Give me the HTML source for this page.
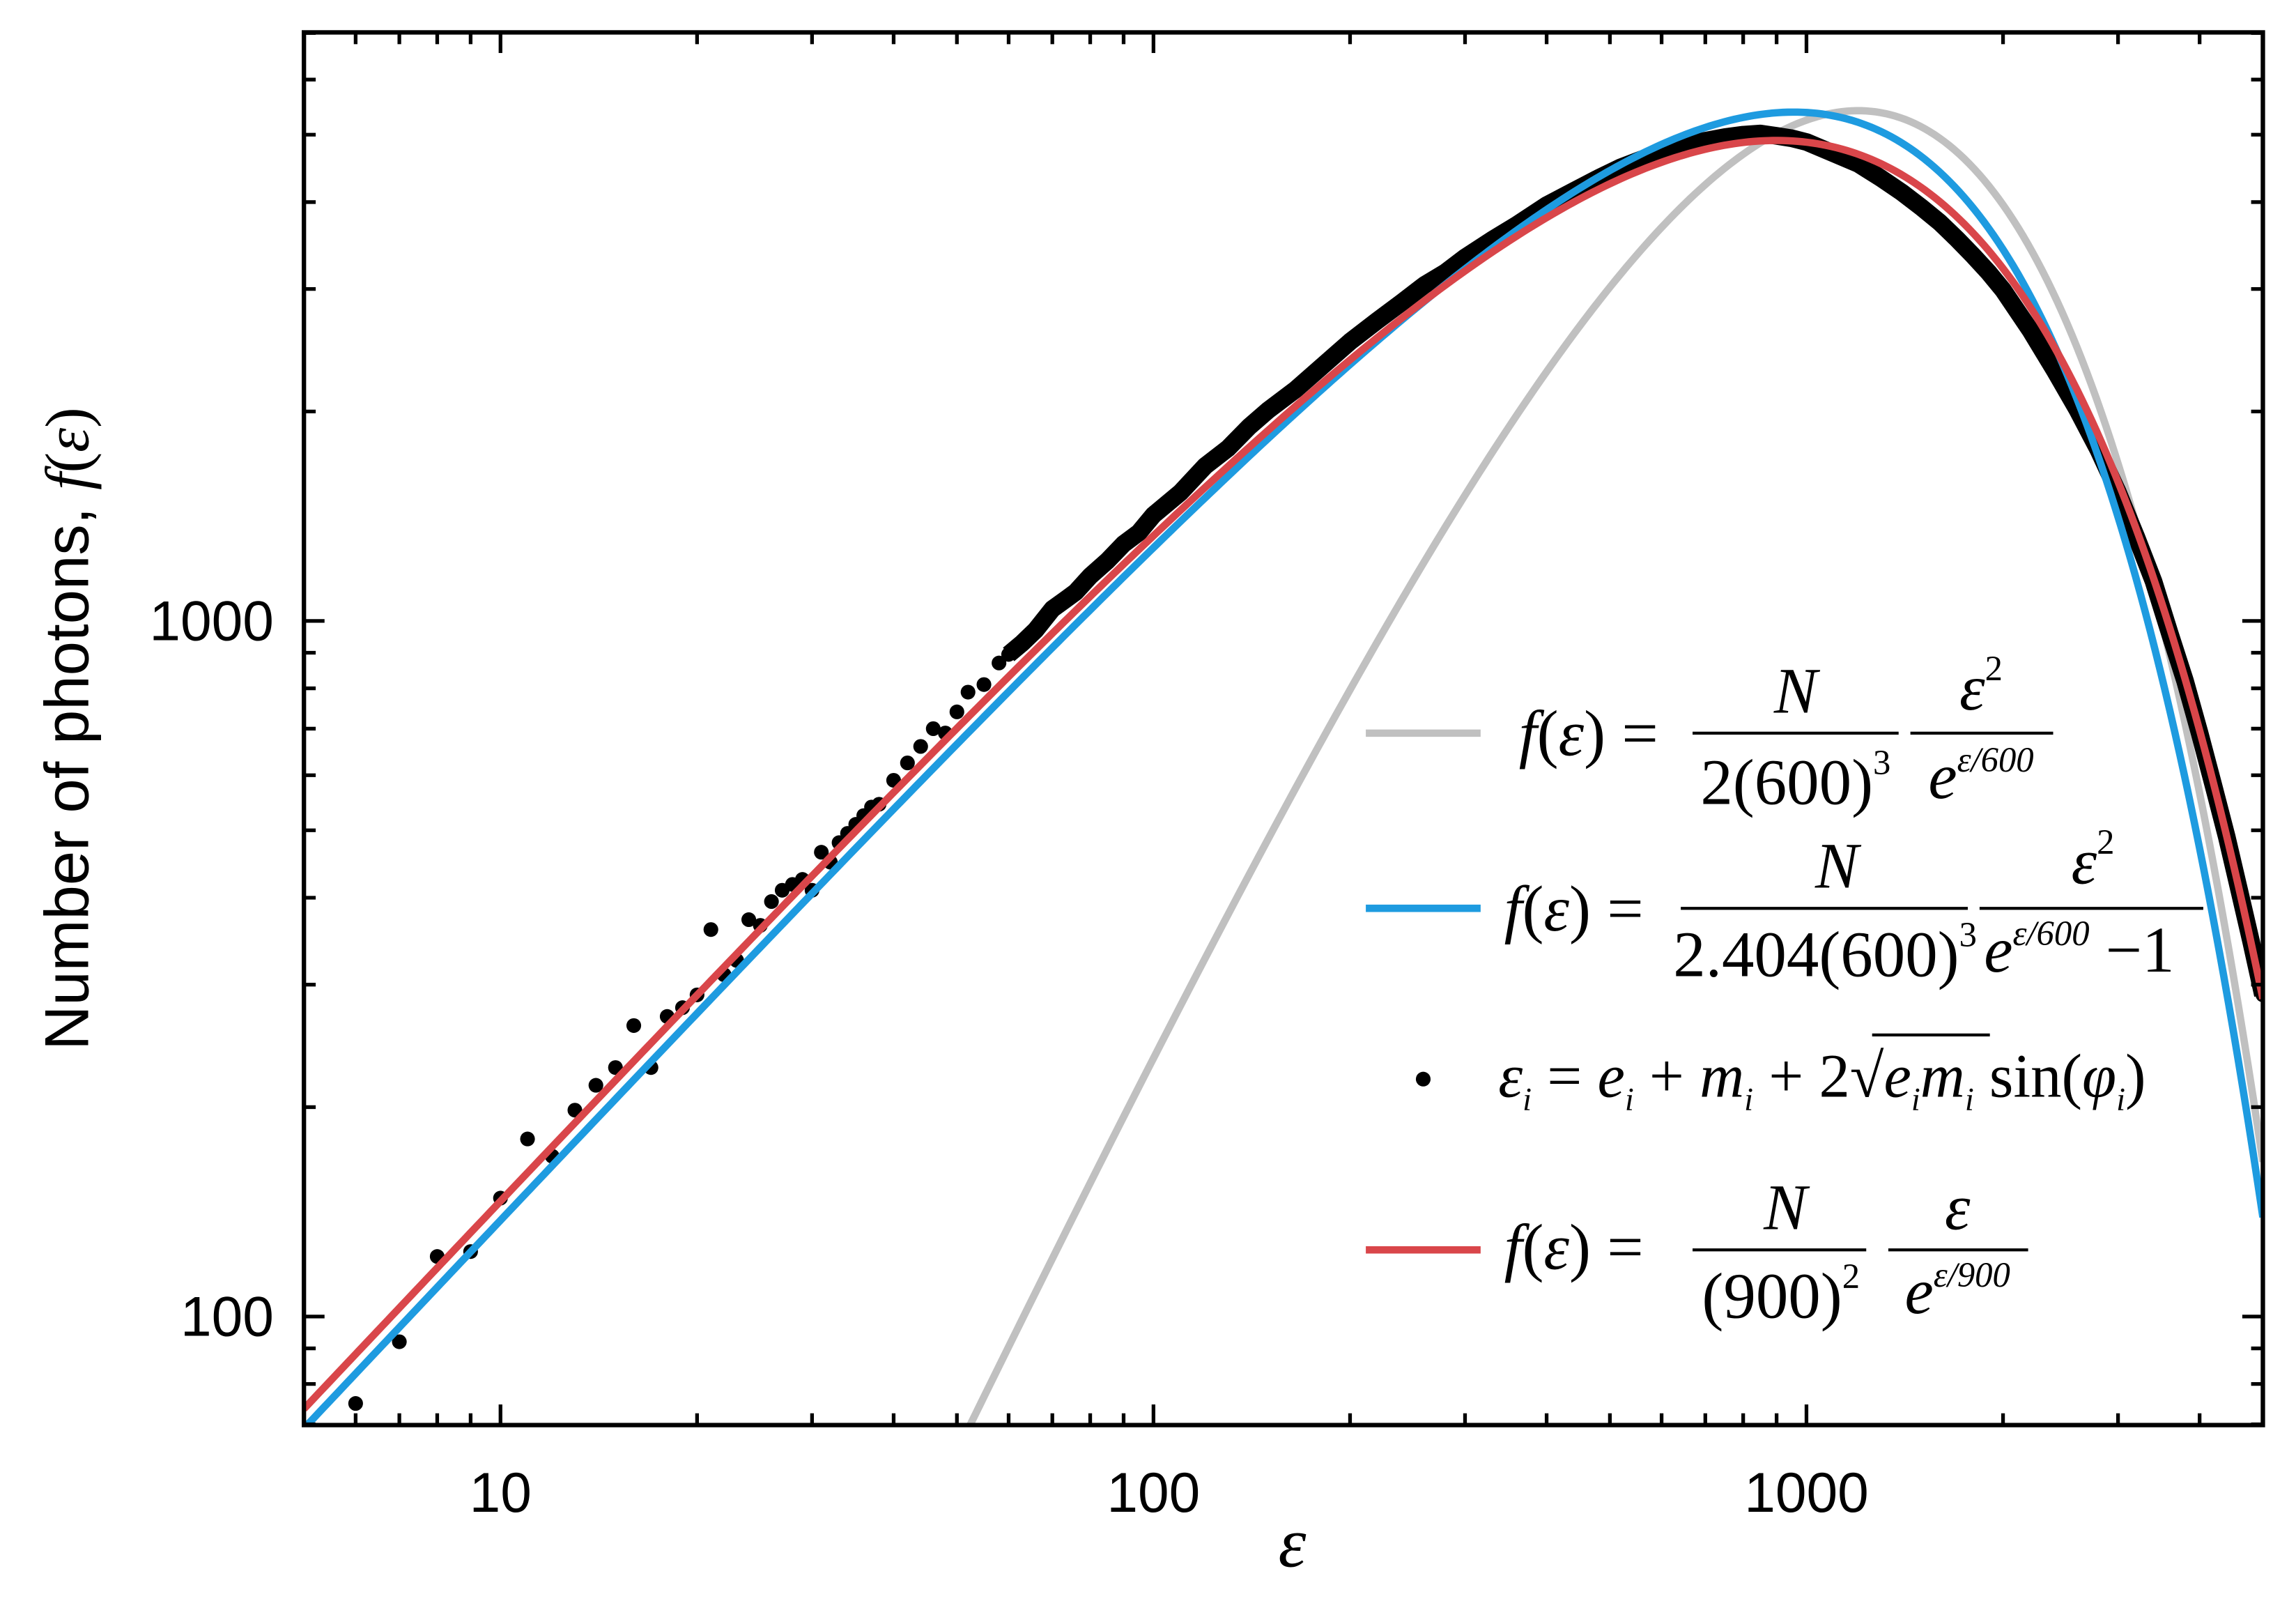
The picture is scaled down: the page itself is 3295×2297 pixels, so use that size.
<!DOCTYPE html>
<html><head><meta charset="utf-8">
<style>
html,body{margin:0;padding:0;background:#fff;overflow:hidden;width:3295px;height:2297px;}
svg{display:block;}
.lab{font-family:"Liberation Sans",sans-serif;}
.m{font-family:"Liberation Serif",serif;}
</style></head>
<body>
<svg id="chart" width="3295" height="2297" viewBox="0 0 1560 1087.5" xmlns="http://www.w3.org/2000/svg">
<rect x="0" y="0" width="1560" height="1087.5" fill="#fff"/>
<g id="marks"></g>
<g id="axes"></g>
<g id="legend">
  <g>
    <line x1="928" y1="498" x2="1006" y2="498" stroke="#c0c0c0" stroke-width="5"/>
    <text class="m" x="1032" y="513" font-size="44"><tspan font-style="italic">f</tspan>(<tspan font-style="italic">ε</tspan>) =</text>
    <line x1="1150" y1="498" x2="1290" y2="498" stroke="#000" stroke-width="2"/>
    <text class="m" x="1220" y="484" font-size="44" font-style="italic" text-anchor="middle">N</text>
    <text class="m" x="1220" y="546" font-size="44" text-anchor="middle">2(600)<tspan font-size="24" dy="-20">3</tspan></text>
    <line x1="1298" y1="498" x2="1395" y2="498" stroke="#000" stroke-width="2"/>
    <text class="m" x="1346" y="482" font-size="44" font-style="italic" text-anchor="middle">ε<tspan font-size="24" font-style="normal" dy="-20">2</tspan></text>
    <text class="m" x="1346" y="542" font-size="44" font-style="italic" text-anchor="middle">e<tspan font-size="24" dy="-18">ε/600</tspan></text>
  </g>
  <g>
    <line x1="928" y1="617" x2="1006" y2="617" stroke="#1e9be0" stroke-width="5"/>
    <text class="m" x="1022" y="632" font-size="44"><tspan font-style="italic">f</tspan>(<tspan font-style="italic">ε</tspan>) =</text>
    <line x1="1142" y1="617" x2="1337" y2="617" stroke="#000" stroke-width="2"/>
    <text class="m" x="1248" y="603" font-size="44" font-style="italic" text-anchor="middle">N</text>
    <text class="m" x="1240" y="663" font-size="44" text-anchor="middle">2.404(600)<tspan font-size="24" dy="-20">3</tspan></text>
    <line x1="1345" y1="617" x2="1497" y2="617" stroke="#000" stroke-width="2"/>
    <text class="m" x="1422" y="600" font-size="44" font-style="italic" text-anchor="middle">ε<tspan font-size="24" font-style="normal" dy="-20">2</tspan></text>
    <text class="m" x="1348" y="660" font-size="44" font-style="italic">e<tspan font-size="24" dy="-18">ε/600</tspan><tspan font-style="normal" dy="18"> −1</tspan></text>
  </g>
  <g>
    <circle cx="967" cy="733" r="5" fill="#000"/>
    <text class="m" x="1018" y="745" font-size="42" font-style="italic">ε<tspan font-size="22" dy="9">i</tspan><tspan dy="-9" font-style="normal"> = </tspan>e<tspan font-size="22" dy="9">i</tspan><tspan dy="-9" font-style="normal"> + </tspan>m<tspan font-size="22" dy="9">i</tspan><tspan dy="-9" font-style="normal"> + 2√</tspan>e<tspan font-size="22" dy="9">i</tspan><tspan dy="-9">m</tspan><tspan font-size="22" dy="9">i</tspan><tspan dy="-9" font-style="normal"> sin(</tspan>φ<tspan font-size="22" dy="9">i</tspan><tspan dy="-9" font-style="normal">)</tspan></text>
    <line x1="1272" y1="703" x2="1352" y2="703" stroke="#000" stroke-width="2"/>
  </g>
  <g>
    <line x1="928" y1="849" x2="1006" y2="849" stroke="#d9464a" stroke-width="5"/>
    <text class="m" x="1022" y="862" font-size="44"><tspan font-style="italic">f</tspan>(<tspan font-style="italic">ε</tspan>) =</text>
    <line x1="1150" y1="849" x2="1268" y2="849" stroke="#000" stroke-width="2"/>
    <text class="m" x="1213" y="835" font-size="44" font-style="italic" text-anchor="middle">N</text>
    <text class="m" x="1210" y="895" font-size="44" text-anchor="middle">(900)<tspan font-size="24" dy="-20">2</tspan></text>
    <line x1="1283" y1="849" x2="1378" y2="849" stroke="#000" stroke-width="2"/>
    <text class="m" x="1330" y="835" font-size="44" font-style="italic" text-anchor="middle">ε</text>
    <text class="m" x="1330" y="892" font-size="44" font-style="italic" text-anchor="middle">e<tspan font-size="24" dy="-18">ε/900</tspan></text>
  </g>
</g>
<text class="m" x="878" y="1064" font-size="48" font-style="italic" text-anchor="middle">ε</text>
<text class="lab" transform="translate(60,495) rotate(-90)" font-size="42" text-anchor="middle">Number of photons, <tspan font-family="Liberation Serif" font-style="italic">f</tspan><tspan font-family="Liberation Serif">(</tspan><tspan font-family="Liberation Serif" font-style="italic">ε</tspan><tspan font-family="Liberation Serif">)</tspan></text>
</svg>
<script>
// ---- data ----
const dataEps = [6,7,8,9,10,11,12,13,14,15,16,17,18,19,20,21,22,23,24,25,26,27,28,29,30,31,32,33,34,35,36,37,38,40,42,44,46,48,50,52,55,58,60,63,66,70,73,76,80,85,90,95,100,110,120,130,140,150,165,180,200,220,240,260,280,300,330,360,400,440,480,520,560,600,650,700,750,800,850,900,950,1000,1100,1200,1300,1400,1500,1600,1700,1800,1900,2000,2200,2400,2600,2800,3000,3200,3400,3600,3800,4000,4200,4400,4600,4800,5000];
const dataCounts = [75,92,122,124,148,180,170,198,215,228,262,228,270,278,290,360,310,325,372,365,395,410,418,425,410,465,450,480,495,510,525,540,545,590,625,660,700,690,740,790,810,870,895,930,970,1040,1070,1100,1160,1220,1290,1340,1420,1530,1670,1770,1900,2010,2150,2310,2520,2700,2870,3040,3170,3330,3530,3710,3960,4150,4330,4490,4610,4710,4830,4900,4960,5000,5020,4980,4940,4880,4700,4540,4330,4130,3930,3740,3540,3350,3170,2990,2620,2290,2010,1760,1530,1320,1140,960,820,690,580,490,410,345,290];
const modelN = [12000000];
const modelTemps = [600, 600, 900];
const xTickValues = [10, 100, 1000];
const xTickLabels = ["10", "100", "1000"];
const yTickValues = [100, 1000];
const yTickLabels = ["100", "1000"];

const L=206.5,R=1537.5,T=22,B=968;
const xLogMin=Math.log10(5), xLogMax=Math.log10(5000);
const yLogMin=1.844, yLogMax=3.846;
function xs(v){return L+(Math.log10(v)-xLogMin)/(xLogMax-xLogMin)*(R-L);}
function ys(v){return B-(Math.log10(v)-yLogMin)/(yLogMax-yLogMin)*(B-T);}
const NS="http://www.w3.org/2000/svg";
const marks=document.getElementById('marks');
const axes=document.getElementById('axes');
function mk(tag,attrs,parent){const e=document.createElementNS(NS,tag);for(const k in attrs)e.setAttribute(k,attrs[k]);parent.appendChild(e);return e;}

const defs=mk('defs',{},marks);
const cp=mk('clipPath',{id:'pc'},defs);
mk('rect',{x:L,y:T,width:R-L,height:B-T},cp);
const plot=mk('g',{'clip-path':'url(#pc)'},marks);

const N=modelN[0];
function classical(e){const t=modelTemps[0];return N/(2*t*t*t)*e*e*Math.exp(-e/t);}
function bose(e){const t=modelTemps[1];return N/(2.404*t*t*t)*e*e/(Math.exp(e/t)-1);}
function fit(e){const t=modelTemps[2];return N/(t*t)*e*Math.exp(-e/t);}
function curvePath(f){let d='';for(let i=0;i<=400;i++){const lv=xLogMin+(xLogMax-xLogMin)*i/400;const e=Math.pow(10,lv);let v=f(e);v=Math.max(v,1);d+=(i?'L':'M')+xs(e).toFixed(2)+','+ys(v).toFixed(2);}return d;}

const g1=mk('path',{d:curvePath(classical),fill:'none',stroke:'#c0c0c0','stroke-width':5},plot);



let bd='';dataEps.forEach((e,i)=>{if(e>=60){bd+=(bd?'L':'M')+xs(e).toFixed(2)+','+ys(dataCounts[i]).toFixed(2);}});
const band=mk('path',{d:bd,fill:'none',stroke:'#000','stroke-width':12,'stroke-linejoin':'round'},plot);


dataEps.forEach((e,i)=>{
  const c=mk('circle',{cx:xs(e),cy:ys(dataCounts[i]),r:5,fill:'#000'},plot);
  
  
});

const g2=mk('path',{d:curvePath(bose),fill:'none',stroke:'#1e9be0','stroke-width':5},plot);


const g3=mk('path',{d:curvePath(fit),fill:'none',stroke:'#d9464a','stroke-width':5},plot);



const fr=mk('rect',{x:L,y:T,width:R-L,height:B-T,fill:'none',stroke:'#000','stroke-width':3},axes);


for(let dec=1;dec<=1000;dec*=10){for(let m=1;m<10;m++){const v=dec*m;if(v<5||v>5000)continue;const x=xs(v);const len=(m===1)?14:8;
  mk('line',{x1:x,y1:B,x2:x,y2:B-len,stroke:'#000','stroke-width':2.5},axes);
  mk('line',{x1:x,y1:T,x2:x,y2:T+len,stroke:'#000','stroke-width':2.5},axes);}}
xTickValues.forEach((v,i)=>{const t=mk('text',{x:xs(v),y:1027,'font-size':38,'text-anchor':'middle',class:'lab'},axes);t.textContent=xTickLabels[i];
  
  });
for(let dec=10;dec<=1000;dec*=10){for(let m=1;m<10;m++){const v=dec*m;if(Math.log10(v)<yLogMin||Math.log10(v)>yLogMax)continue;const y=ys(v);const len=(m===1)?14:8;
  mk('line',{x1:L,y1:y,x2:L+len,y2:y,stroke:'#000','stroke-width':2.5},axes);
  mk('line',{x1:R,y1:y,x2:R-len,y2:y,stroke:'#000','stroke-width':2.5},axes);}}
yTickValues.forEach((v,i)=>{const t=mk('text',{x:186,y:ys(v)+13,'font-size':38,'text-anchor':'end',class:'lab'},axes);t.textContent=yTickLabels[i];
  
  });
</script>
</body></html>
